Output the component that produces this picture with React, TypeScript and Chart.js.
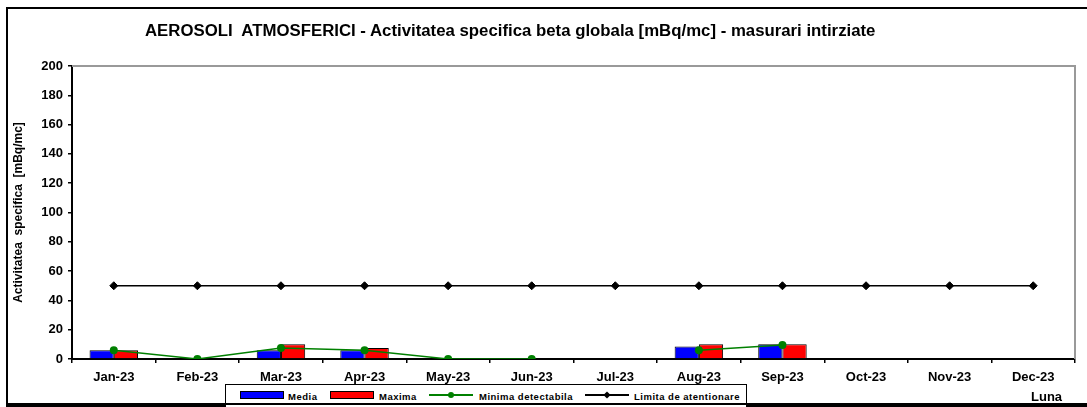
import React, { useEffect, useRef } from "react";
import { Chart, registerables } from "chart.js";

Chart.register(...registerables);

const months = ["Jan-23", "Feb-23", "Mar-23", "Apr-23", "May-23", "Jun-23", "Jul-23", "Aug-23", "Sep-23", "Oct-23", "Nov-23", "Dec-23"];
const media = [6, null, 6, 6, null, null, null, 8.5, 10, null, null, null];
const maxima = [6, null, 10, 7.5, null, null, null, 10, 10, null, null, null];
const minimaDetectabila = [6, 0, 7.5, 6, 0, 0, null, 6, 9.5, null, null, null];
const limitaAtentionare = [50, 50, 50, 50, 50, 50, 50, 50, 50, 50, 50, 50];

const chartTitle = "AEROSOLI  ATMOSFERICI - Activitatea specifica beta globala [mBq/mc] - masurari intirziate";
const yTitle = "Activitatea  specifica  [mBq/mc]";
const FONT = "'Liberation Sans', Arial, sans-serif";

const frameGrey = {
  id: "frameGrey",
  beforeDatasetsDraw(chart: any) {
    const { ctx, chartArea } = chart;
    ctx.save();
    ctx.strokeStyle = "#999";
    ctx.lineWidth = 2;
    ctx.beginPath();
    ctx.moveTo(chartArea.left, chartArea.top);
    ctx.lineTo(chartArea.right, chartArea.top);
    ctx.lineTo(chartArea.right, chartArea.bottom);
    ctx.stroke();
    ctx.restore();
  },
};

export default function App() {
  const ref = useRef<HTMLCanvasElement>(null);
  useEffect(() => {
    if (!ref.current) return;
    const chart = new Chart(ref.current, {
      type: "bar",
      data: {
        labels: months,
        datasets: [
          {
            type: "line",
            label: "Limita de atentionare",
            data: limitaAtentionare,
            borderColor: "#000",
            backgroundColor: "#000",
            borderWidth: 1.5,
            pointStyle: "rectRot",
            pointRadius: 4,
            pointBorderWidth: 1,
            order: 0,
          } as any,
          {
            type: "line",
            label: "Minima detectabila",
            data: minimaDetectabila,
            borderColor: "#008000",
            backgroundColor: "#008000",
            borderWidth: 1.5,
            pointRadius: 4,
            pointBorderWidth: 0,
            spanGaps: false,
            order: 1,
          } as any,
          {
            label: "Media",
            data: media,
            backgroundColor: "#0000ff",
            borderColor: "#000",
            borderWidth: 1,
            categoryPercentage: 0.58,
            barPercentage: 1,
            order: 2,
          },
          {
            label: "Maxima",
            data: maxima,
            backgroundColor: "#ff0000",
            borderColor: "#000",
            borderWidth: 1,
            categoryPercentage: 0.58,
            barPercentage: 1,
            order: 3,
          },
        ],
      },
      options: {
        responsive: false,
        animation: false,
        layout: { padding: { left: 6, right: 12, top: 66, bottom: 0 } },
        plugins: {
          legend: { display: false },
          tooltip: { enabled: false },
          title: { display: false },
        },
        scales: {
          x: {
            offset: true,
            grid: { drawOnChartArea: false, color: "#000", tickLength: 4, lineWidth: 1.5, offset: true },
            border: { color: "#000", width: 2 },
            ticks: { color: "#000", font: { family: FONT, size: 13, weight: "bold" }, padding: 7, maxRotation: 0, autoSkip: false },
            afterFit: (s: any) => { s.height = 48; },
          },
          y: {
            min: 0,
            max: 200,
            ticks: { stepSize: 20, color: "#000", font: { family: FONT, size: 13, weight: "bold" }, padding: 5 },
            grid: { drawOnChartArea: false, color: "#000", tickLength: 4, lineWidth: 1.5 },
            border: { color: "#000", width: 2 },
            title: {
              display: true,
              text: yTitle,
              color: "#000",
              font: { family: FONT, size: 12, weight: "bold" },
              padding: { top: 5, bottom: 0 },
            },
            afterFit: (s: any) => { s.width = 66; },
          },
        },
      },
      plugins: [frameGrey],
    });
    return () => chart.destroy();
  }, []);

  const legendText: React.CSSProperties = {
    position: "absolute",
    top: 391,
    fontFamily: FONT,
    fontWeight: "bold",
    fontSize: 9.5,
    letterSpacing: 0.5,
    color: "#000",
    lineHeight: "12px",
    whiteSpace: "nowrap",
  };
  const swatch = (left: number, color: string): React.CSSProperties => ({
    position: "absolute",
    left,
    top: 391,
    width: 42,
    height: 6,
    background: color,
    border: "1px solid #000",
  });
  const lineSw = (left: number, color: string): React.CSSProperties => ({
    position: "absolute",
    left,
    top: 394,
    width: 44,
    height: 2,
    background: color,
  });
  const dot = (left: number, color: string, diamond: boolean): React.CSSProperties => ({
    position: "absolute",
    left,
    top: 392,
    width: 6,
    height: 6,
    background: color,
    borderRadius: diamond ? 0 : 3,
    transform: diamond ? "rotate(45deg) scale(0.85)" : undefined,
  });

  return (
    <div style={{ position: "fixed", left: 0, top: 0, width: 1087, height: 407, background: "#fff", overflow: "hidden" }}>
      <canvas ref={ref} width={1087} height={407} style={{ display: "block", position: "absolute", left: 0, top: 0 }} />
      <div style={{ position: "absolute", left: 145, top: 21, fontFamily: FONT, fontWeight: "bold", fontSize: 16.8, lineHeight: "20px", color: "#000", whiteSpace: "pre" }}>{chartTitle}</div>
      <div style={{ position: "absolute", left: 6, top: 7, width: 1100, height: 396, border: "2px solid #000", pointerEvents: "none" }} />
      <div style={{ position: "absolute", left: 225, top: 384, width: 520, height: 30, border: "1px solid #000", background: "#fff" }} />
      <div style={swatch(240, "#0000ff")} />
      <div style={{ ...legendText, left: 288 }}>Media</div>
      <div style={swatch(330, "#ff0000")} />
      <div style={{ ...legendText, left: 379 }}>Maxima</div>
      <div style={lineSw(429, "#008000")} />
      <div style={dot(448, "#008000", false)} />
      <div style={{ ...legendText, left: 479 }}>Minima detectabila</div>
      <div style={lineSw(585, "#000")} />
      <div style={dot(604, "#000", true)} />
      <div style={{ ...legendText, left: 634 }}>Limita de atentionare</div>
      <div style={{ position: "absolute", left: 1031, top: 389, fontFamily: FONT, fontWeight: "bold", fontSize: 13, color: "#000" }}>Luna</div>
      <div style={{ position: "absolute", left: 6, top: 403, width: 1100, height: 2, background: "#000" }} />
    </div>
  );
}
